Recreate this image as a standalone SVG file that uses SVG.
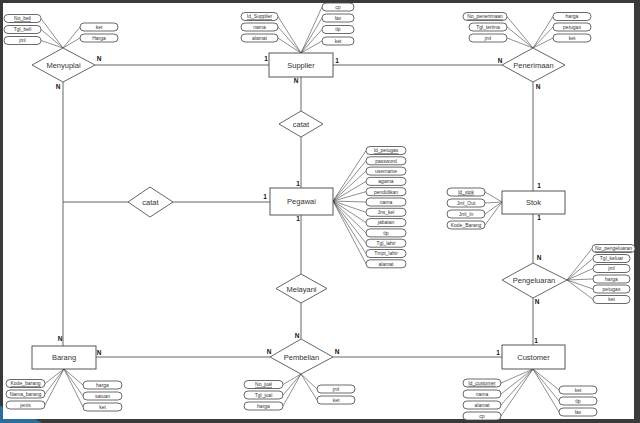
<svg xmlns="http://www.w3.org/2000/svg" width="640" height="423" viewBox="0 0 640 423">
<style>
.ent{fill:#fff;stroke:#444;stroke-width:0.9}
.rel{fill:#fff;stroke:#555;stroke-width:0.9}
.att{fill:#fff;stroke:#444;stroke-width:0.8}
.ln{stroke:#555;stroke-width:0.9;fill:none}
.al{stroke:#444;stroke-width:0.6;fill:none}
.lbl{font-family:"Liberation Sans",Arial,sans-serif;font-size:7.5px;fill:#333;text-anchor:middle}
.at{font-family:"Liberation Sans",Arial,sans-serif;font-size:5px;fill:#333;text-anchor:middle}
.key{text-decoration:underline}
.card{font-family:"Liberation Sans",Arial,sans-serif;font-size:6.5px;font-weight:bold;fill:#111;text-anchor:middle}
</style>
<rect x="0" y="0" width="640" height="423" fill="#3a3a3a"/>
<path d="M0,406 Q22,410 42,423 L0,423 Z" fill="#2a6f9a"/>
<rect x="3" y="3" width="631" height="416" fill="#fff"/>

<g id="connectors">
<line class="ln" x1="95" y1="65" x2="269" y2="65"/>
<line class="ln" x1="333" y1="65" x2="502" y2="65"/>
<line class="ln" x1="63" y1="82" x2="63" y2="346"/>
<line class="ln" x1="63" y1="202" x2="128" y2="202"/>
<line class="ln" x1="173" y1="202" x2="270" y2="202"/>
<line class="ln" x1="301" y1="77" x2="301" y2="111"/>
<line class="ln" x1="301" y1="137" x2="301" y2="188"/>
<line class="ln" x1="301" y1="215" x2="301" y2="274"/>
<line class="ln" x1="301" y1="303" x2="301" y2="339"/>
<line class="ln" x1="96" y1="357" x2="270" y2="357"/>
<line class="ln" x1="333" y1="357" x2="502" y2="357"/>
<line class="ln" x1="533" y1="82" x2="533" y2="191"/>
<line class="ln" x1="533" y1="214" x2="533" y2="263"/>
<line class="ln" x1="533" y1="298" x2="533" y2="345"/>
<path class="al" d="M41,18.5L63,48M41,29.5L63,48M41,40.5L63,48M80,27L63,48M80,38L63,48"/>
<path class="al" d="M278,16.5L301,53M278,27L301,53M278,38L301,53M322,7L301,53M322,18L301,53M322,29.5L301,53M322,41L301,53"/>
<path class="al" d="M507,16.5L533,48M507,27L533,48M507,38L533,48M553,16.5L533,48M553,27L533,48M553,38L533,48"/>
<path class="al" d="M333,201L366,150.5M333,201L366,160.8M333,201L366,171.1M333,201L366,181.4M333,201L366,191.7M333,201L366,202M333,201L366,212.3M333,201L366,222.6M333,201L366,232.9M333,201L366,243.2M333,201L366,253.5M333,201L366,263.8"/>
<path class="al" d="M485,192L502,202M485,203L502,202M485,214L502,202M485,225L502,202"/>
<path class="al" d="M567,280L592,248.5M567,280L593,258.5M567,280L593,268.5M567,280L593,279M567,280L593,289M567,280L593,299.5"/>
<path class="al" d="M45,383.5L64,369M45,394L64,369M45,405L64,369M83,385L64,369M83,396L64,369M83,407L64,369"/>
<path class="al" d="M283,384.5L301,374M283,395L301,374M283,406L301,374M317,389L301,374M317,400L301,374"/>
<path class="al" d="M501,383L533,369M501,394L533,369M501,405L533,369M501,416L533,369M559,390L533,369M559,401L533,369M559,412L533,369"/>
</g>

<g id="cardinalities">
<text class="card" x="99" y="61">N</text>
<text class="card" x="58" y="89">N</text>
<text class="card" x="266" y="61">1</text>
<text class="card" x="337" y="63">1</text>
<text class="card" x="296" y="83">N</text>
<text class="card" x="500" y="63">N</text>
<text class="card" x="538" y="89">N</text>
<text class="card" x="298" y="186">1</text>
<text class="card" x="265" y="199">1</text>
<text class="card" x="298" y="221">1</text>
<text class="card" x="539" y="188">1</text>
<text class="card" x="539" y="220">1</text>
<text class="card" x="539" y="260">N</text>
<text class="card" x="537" y="304">N</text>
<text class="card" x="60" y="341">N</text>
<text class="card" x="99" y="355">N</text>
<text class="card" x="297" y="338">N</text>
<text class="card" x="269" y="354">N</text>
<text class="card" x="337" y="354">N</text>
<text class="card" x="536" y="343">1</text>
<text class="card" x="498" y="355">1</text>
</g>

<g id="Supplier"><rect class="ent" x="269" y="53" width="64" height="24"/><text class="lbl" x="301" y="68">Supplier</text></g>
<g id="Pegawai"><rect class="ent" x="270" y="188" width="63" height="27"/><text class="lbl" x="301.5" y="204">Pegawai</text></g>
<g id="Stok"><rect class="ent" x="502" y="191" width="63" height="23"/><text class="lbl" x="533.5" y="205">Stok</text></g>
<g id="Barang"><rect class="ent" x="32" y="346" width="64" height="23"/><text class="lbl" x="64" y="360">Barang</text></g>
<g id="Customer"><rect class="ent" x="502" y="345" width="63" height="24"/><text class="lbl" x="533.5" y="360">Customer</text></g>

<g id="Menyuplai"><polygon class="rel" points="63,48 95,65 63,82 32,65"/><text class="lbl" x="63.5" y="68">Menyuplai</text></g>
<g id="Penerimaan"><polygon class="rel" points="533,48 565,65 533,82 502,65"/><text class="lbl" x="533.5" y="68">Penerimaan</text></g>
<g id="catat1"><polygon class="rel" points="301,111 323,124 301,137 279,124"/><text class="lbl" x="301" y="127">catat</text></g>
<g id="catat2"><polygon class="rel" points="150,187 173,202 150,217 128,202"/><text class="lbl" x="150.5" y="205">catat</text></g>
<g id="Melayani"><polygon class="rel" points="301,274 327,288.5 301,303 276,288.5"/><text class="lbl" x="301.5" y="291.5">Melayani</text></g>
<g id="Pembelian"><polygon class="rel" points="301,339 333,357 301,374 270,357"/><text class="lbl" x="301.5" y="360">Pembelian</text></g>
<g id="Pengeluaran"><polygon class="rel" points="533,263 567,280 533,298 502,280"/><text class="lbl" x="534" y="283">Pengeluaran</text></g>

<g id="attr-menyuplai">
<g id="a-No_beli"><rect class="att" x="4" y="14.5" width="37" height="8" rx="4"/><text class="at key" x="22.5" y="20.3">No_beli</text></g>
<g id="a-Tgl_beli"><rect class="att" x="4" y="25.5" width="37" height="8" rx="4"/><text class="at" x="22.5" y="31.3">Tgl_beli</text></g>
<g id="a-jml1"><rect class="att" x="4" y="36.5" width="37" height="8" rx="4"/><text class="at" x="22.5" y="42.3">jml</text></g>
<g id="a-ket1"><rect class="att" x="80" y="23" width="38" height="8" rx="4"/><text class="at" x="99" y="28.8">ket</text></g>
<g id="a-Harga1"><rect class="att" x="80" y="34" width="38" height="8" rx="4"/><text class="at" x="99" y="39.8">Harga</text></g>
</g>

<g id="attr-supplier">
<g id="a-Id_Supplier"><rect class="att" x="241" y="12.5" width="37" height="8" rx="4"/><text class="at key" x="259.5" y="18.3">Id_Supplier</text></g>
<g id="a-nama2"><rect class="att" x="241" y="23" width="37" height="8" rx="4"/><text class="at" x="259.5" y="28.8">nama</text></g>
<g id="a-alamat2"><rect class="att" x="241" y="34" width="37" height="8" rx="4"/><text class="at" x="259.5" y="39.8">alamat</text></g>
<g id="a-cp2"><rect class="att" x="322" y="3" width="32" height="8" rx="4"/><text class="at" x="338" y="8.8">cp</text></g>
<g id="a-fax2"><rect class="att" x="322" y="14" width="32" height="8" rx="4"/><text class="at" x="338" y="19.8">fax</text></g>
<g id="a-tlp2"><rect class="att" x="322" y="25.5" width="32" height="8" rx="4"/><text class="at" x="338" y="31.3">tlp</text></g>
<g id="a-ket2"><rect class="att" x="322" y="37" width="32" height="8" rx="4"/><text class="at" x="338" y="42.8">ket</text></g>
</g>

<g id="attr-penerimaan">
<g id="a-No_penerimaan"><rect class="att" x="463" y="12.5" width="44" height="8" rx="4"/><text class="at key" x="485" y="18.3">No_penerimaan</text></g>
<g id="a-Tgl_terima"><rect class="att" x="469" y="23" width="38" height="8" rx="4"/><text class="at" x="488" y="28.8">Tgl_terima</text></g>
<g id="a-jml3"><rect class="att" x="469" y="34" width="38" height="8" rx="4"/><text class="at" x="488" y="39.8">jml</text></g>
<g id="a-harga3"><rect class="att" x="553" y="12.5" width="38" height="8" rx="4"/><text class="at" x="572" y="18.3">harga</text></g>
<g id="a-petugas3"><rect class="att" x="553" y="23" width="38" height="8" rx="4"/><text class="at" x="572" y="28.8">petugas</text></g>
<g id="a-ket3"><rect class="att" x="553" y="34" width="38" height="8" rx="4"/><text class="at" x="572" y="39.8">ket</text></g>
</g>

<g id="attr-pegawai">
<g id="a-Id_petugas"><rect class="att" x="366" y="146.5" width="40" height="8" rx="4"/><text class="at key" x="386" y="152.3">Id_petugas</text></g>
<g id="a-password"><rect class="att" x="366" y="156.8" width="40" height="8" rx="4"/><text class="at" x="386" y="162.6">password</text></g>
<g id="a-username"><rect class="att" x="366" y="167.1" width="40" height="8" rx="4"/><text class="at" x="386" y="172.9">username</text></g>
<g id="a-agama"><rect class="att" x="366" y="177.4" width="40" height="8" rx="4"/><text class="at" x="386" y="183.2">agama</text></g>
<g id="a-pendidikan"><rect class="att" x="366" y="187.7" width="40" height="8" rx="4"/><text class="at" x="386" y="193.5">pendidikan</text></g>
<g id="a-nama4"><rect class="att" x="366" y="198" width="40" height="8" rx="4"/><text class="at" x="386" y="203.8">nama</text></g>
<g id="a-Jns_kel"><rect class="att" x="366" y="208.3" width="40" height="8" rx="4"/><text class="at" x="386" y="214.1">Jns_kel</text></g>
<g id="a-jabatan"><rect class="att" x="366" y="218.6" width="40" height="8" rx="4"/><text class="at" x="386" y="224.4">jabatan</text></g>
<g id="a-tlp4"><rect class="att" x="366" y="228.9" width="40" height="8" rx="4"/><text class="at" x="386" y="234.7">tlp</text></g>
<g id="a-Tgl_lahir"><rect class="att" x="366" y="239.2" width="40" height="8" rx="4"/><text class="at" x="386" y="245">Tgl_lahir</text></g>
<g id="a-Tmpt_lahir"><rect class="att" x="366" y="249.5" width="40" height="8" rx="4"/><text class="at" x="386" y="255.3">Tmpt_lahir</text></g>
<g id="a-alamat4"><rect class="att" x="366" y="259.8" width="40" height="8" rx="4"/><text class="at" x="386" y="265.6">alamat</text></g>
</g>

<g id="attr-stok">
<g id="a-Id_stok"><rect class="att" x="447" y="188" width="38" height="8" rx="4"/><text class="at key" x="466" y="193.8">Id_stok</text></g>
<g id="a-Jml_Out"><rect class="att" x="447" y="199" width="38" height="8" rx="4"/><text class="at" x="466" y="204.8">Jml_Out</text></g>
<g id="a-Jml_In"><rect class="att" x="447" y="210" width="38" height="8" rx="4"/><text class="at" x="466" y="215.8">Jml_In</text></g>
<g id="a-Kode_Barang"><rect class="att" x="447" y="221" width="38" height="8" rx="4"/><text class="at" x="466" y="226.8">Kode_Barang</text></g>
</g>

<g id="attr-pengeluaran">
<g id="a-No_pengeluaran"><rect class="att" x="592" y="244.5" width="43" height="8" rx="4"/><text class="at key" x="613.5" y="250.3">No_pengeluaran</text></g>
<g id="a-Tgl_keluar"><rect class="att" x="593" y="254.5" width="37" height="8" rx="4"/><text class="at" x="611.5" y="260.3">Tgl_keluar</text></g>
<g id="a-jml6"><rect class="att" x="593" y="264.5" width="37" height="8" rx="4"/><text class="at" x="611.5" y="270.3">jml</text></g>
<g id="a-harga6"><rect class="att" x="593" y="275" width="37" height="8" rx="4"/><text class="at" x="611.5" y="280.8">harga</text></g>
<g id="a-petugas6"><rect class="att" x="593" y="285" width="37" height="8" rx="4"/><text class="at" x="611.5" y="290.8">petugas</text></g>
<g id="a-ket6"><rect class="att" x="593" y="295.5" width="37" height="8" rx="4"/><text class="at" x="611.5" y="301.3">ket</text></g>
</g>

<g id="attr-barang">
<g id="a-Kode_barang"><rect class="att" x="6" y="379.5" width="39" height="8" rx="4"/><text class="at key" x="25.5" y="385.3">Kode_barang</text></g>
<g id="a-Nama_barang"><rect class="att" x="6" y="390" width="39" height="8" rx="4"/><text class="at" x="25.5" y="395.8">Nama_barang</text></g>
<g id="a-jenis"><rect class="att" x="6" y="401" width="39" height="8" rx="4"/><text class="at" x="25.5" y="406.8">jenis</text></g>
<g id="a-harga7"><rect class="att" x="83" y="381" width="39" height="8" rx="4"/><text class="at" x="102.5" y="386.8">harga</text></g>
<g id="a-satuan"><rect class="att" x="83" y="392" width="39" height="8" rx="4"/><text class="at" x="102.5" y="397.8">satuan</text></g>
<g id="a-ket7"><rect class="att" x="83" y="403" width="39" height="8" rx="4"/><text class="at" x="102.5" y="408.8">ket</text></g>
</g>

<g id="attr-pembelian">
<g id="a-No_jual"><rect class="att" x="244" y="380.5" width="39" height="8" rx="4"/><text class="at key" x="263.5" y="386.3">No_jual</text></g>
<g id="a-Tgl_jual"><rect class="att" x="244" y="391" width="39" height="8" rx="4"/><text class="at" x="263.5" y="396.8">Tgl_jual</text></g>
<g id="a-harga8"><rect class="att" x="244" y="402" width="39" height="8" rx="4"/><text class="at" x="263.5" y="407.8">harga</text></g>
<g id="a-jml8"><rect class="att" x="317" y="385" width="38" height="8" rx="4"/><text class="at" x="336" y="390.8">jml</text></g>
<g id="a-ket8"><rect class="att" x="317" y="396" width="38" height="8" rx="4"/><text class="at" x="336" y="401.8">ket</text></g>
</g>

<g id="attr-customer">
<g id="a-Id_customer"><rect class="att" x="463" y="379" width="38" height="8" rx="4"/><text class="at key" x="482" y="384.8">Id_customer</text></g>
<g id="a-nama9"><rect class="att" x="463" y="390" width="38" height="8" rx="4"/><text class="at" x="482" y="395.8">nama</text></g>
<g id="a-alamat9"><rect class="att" x="463" y="401" width="38" height="8" rx="4"/><text class="at" x="482" y="406.8">alamat</text></g>
<g id="a-cp9"><rect class="att" x="463" y="412" width="38" height="8" rx="4"/><text class="at" x="482" y="417.8">cp</text></g>
<g id="a-ket9"><rect class="att" x="559" y="386" width="38" height="8" rx="4"/><text class="at" x="578" y="391.8">ket</text></g>
<g id="a-tlp9"><rect class="att" x="559" y="397" width="38" height="8" rx="4"/><text class="at" x="578" y="402.8">tlp</text></g>
<g id="a-fax9"><rect class="att" x="559" y="408" width="38" height="8" rx="4"/><text class="at" x="578" y="413.8">fax</text></g>
</g>
</svg>
